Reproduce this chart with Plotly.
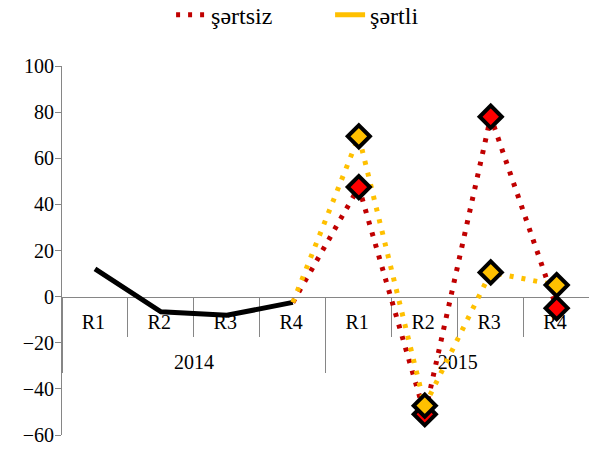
import plotly.graph_objects as go

# Quarter / year categories
years = ["2014"] * 4 + ["2015"] * 4
quarters = ["R1", "R2", "R3", "R4"] * 2

# Actual values for 2014
actual_idx = [0, 1, 2, 3]
actual_vals = [12, -6.6, -8.1, -2.5]

# 2015 projections (start from the last actual point, R4 2014)
proj_idx = [3, 4, 5, 6, 7]
sertsiz_vals = [-2.5, 47.5, -51, 78, -5]
sertli_vals = [-2.5, 69.5, -47.3, 10.5, 5]

RED_LINE = "#C00000"
RED_FILL = "#FF0000"
YELLOW = "#FFC000"
GREY = "#868686"
FONT = "Liberation Serif"

# a tall hair space after each quarter label deepens the quarter row,
# which opens up the gap above the year row
STRUT = "<span style='font-size:40px'>&#8202;</span>"


def xy(idx):
    return [[years[i] for i in idx], [quarters[i] + STRUT for i in idx]]


fig = go.Figure()

fig.add_trace(go.Scatter(
    x=xy(actual_idx), y=actual_vals, mode="lines",
    line=dict(color="black", width=5), showlegend=False, hoverinfo="skip",
))

fig.add_trace(go.Scatter(
    x=xy(proj_idx), y=sertsiz_vals, mode="lines", name="şərtsiz",
    line=dict(color=RED_LINE, width=5, dash="4px,8px"),
))
fig.add_trace(go.Scatter(
    x=xy(proj_idx), y=sertli_vals, mode="lines", name="şərtli",
    line=dict(color=YELLOW, width=5, dash="4px,8px"), showlegend=False,
))
# legend entry for şərtli uses a solid stroke
fig.add_trace(go.Scatter(
    x=[None], y=[None], mode="lines", name="şərtli",
    line=dict(color=YELLOW, width=5),
))

# diamond markers on the 2015 quarters
fig.add_trace(go.Scatter(
    x=xy(proj_idx[1:]), y=sertsiz_vals[1:], mode="markers", showlegend=False,
    marker=dict(symbol="diamond", size=17, color=RED_FILL,
                line=dict(color="black", width=4)),
))
fig.add_trace(go.Scatter(
    x=xy(proj_idx[1:]), y=sertli_vals[1:], mode="markers", showlegend=False,
    marker=dict(symbol="diamond", size=17, color=YELLOW,
                line=dict(color="black", width=4)),
))

fig.update_layout(
    width=589, height=450,
    margin=dict(l=62, r=0, t=66, b=15, autoexpand=False),
    paper_bgcolor="white", plot_bgcolor="white",
    font=dict(family=FONT, size=20, color="black"),
    showlegend=True,
    legend=dict(
        orientation="h", x=0.207, xanchor="left", y=1.138, yanchor="middle",
        entrywidth=114, entrywidthmode="pixels",
        font=dict(family=FONT, size=24, color="black"),
        bgcolor="rgba(0,0,0,0)",
    ),
    xaxis=dict(
        type="multicategory",
        anchor="free", position=0.375,
        range=[-0.5, 7.49],
        showline=True, linecolor=GREY, linewidth=1,
        ticks="outside", tickson="boundaries", ticklen=39, tickcolor=GREY,
        showdividers=True, dividercolor=GREY, dividerwidth=1,
        showgrid=False, zeroline=False,
        layer="below traces",
        ticklabelstandoff=7,
        tickfont=dict(family=FONT, size=20, color="black"),
    ),
    yaxis=dict(
        range=[-60, 100], tickvals=[-60, -40, -20, 0, 20, 40, 60, 80, 100],
        showline=True, linecolor=GREY, linewidth=1,
        ticks="outside", ticklen=6, tickcolor=GREY,
        showgrid=False, zeroline=False,
        ticklabelstandoff=-3,
        tickfont=dict(family=FONT, size=20, color="black"),
    ),
)

fig.write_html("out.html")
